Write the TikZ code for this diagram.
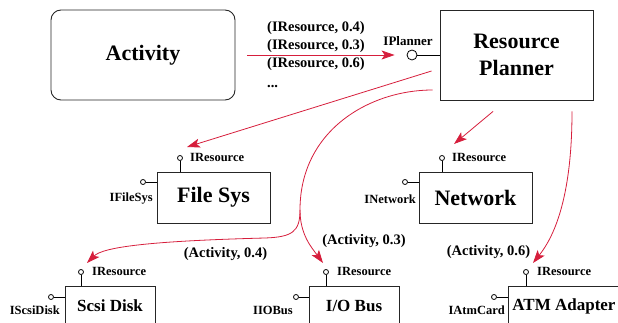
\documentclass[tikz,border=0pt]{standalone}
\usepackage{fontspec}
\setmainfont{Liberation Serif}
\usetikzlibrary{arrows.meta,calc}
\definecolor{arrred}{RGB}{214,30,60}
\begin{document}
\begin{tikzpicture}[x=1pt,y=-1pt,
  box/.style={draw=black!85,line width=0.9pt,font=\fontsize{22}{27}\selectfont\bfseries,align=center,inner sep=0pt},
  smallbox/.style={box,font=\fontsize{17}{20}\selectfont\bfseries},
  port/.style={circle,draw=black,line width=0.8pt,fill=white,inner sep=0pt,minimum size=5pt},
  bigport/.style={port,minimum size=10pt},
  plabel/.style={font=\fontsize{12.5}{14}\selectfont\bfseries,inner sep=0pt},
  alabel/.style={font=\fontsize{14.5}{16}\selectfont\bfseries,inner sep=0pt},
  link/.style={draw=arrred,line width=0.8pt},
  arr/.style={link,-{Stealth[length=13pt,width=9pt,inset=3pt]}},
  stub/.style={draw=black,line width=0.8pt}
]
\useasboundingbox (0,0) rectangle (618,323);

% main boxes
\node[box,rounded corners=10pt,minimum width=184pt,minimum height=90pt] (act) at (143,55) {Activity};
\node[box,minimum width=153pt,minimum height=90pt] (plan) at (516.5,55) {Resource\\Planner};
\node[box,minimum width=113pt,minimum height=51pt] (fs) at (213.5,197.5) {File Sys};
\node[box,minimum width=113pt,minimum height=51pt] (net) at (475.5,197.5) {Network};
\node[smallbox,minimum width=90pt,minimum height=40pt] (scsi) at (110,306) {Scsi Disk};
\node[smallbox,minimum width=90pt,minimum height=40pt] (iob) at (354,306) {I/O Bus};
\node[smallbox,minimum width=112pt,minimum height=40pt] (atm) at (564,306) {ATM Adapter};

% IPlanner port
\node[bigport] (ipl) at (412,55) {};
\draw[stub] (ipl.east) -- (plan.west);
\node[plabel,font=\fontsize{13}{15}\selectfont\bfseries] (iplL) at (408,41) {IPlanner};

% File Sys ports
\node[port] (fsR) at (180,158) {};
\draw[stub] (fsR.south) -- (fsR |- fs.north);
\node[plabel,anchor=west] (fsRL) at (190,157) {IResource};
\node[port] (fsF) at (143,182) {};
\draw[stub] (fsF.east) -- (fsF -| fs.west);
\node[plabel,anchor=east] (fsFL) at (153,199) {IFileSys};

% Network ports
\node[port] (nR) at (442,158) {};
\draw[stub] (nR.south) -- (nR |- net.north);
\node[plabel,anchor=west] (nRL) at (452,157) {IResource};
\node[port] (nN) at (405,182) {};
\draw[stub] (nN.east) -- (nN -| net.west);
\node[plabel,anchor=east] (nNL) at (416,199) {INetwork};

% Scsi ports
\node[port] (sR) at (81,272) {};
\draw[stub] (sR.south) -- (sR |- scsi.north);
\node[plabel,anchor=west] (sRL) at (92,271) {IResource};
\node[port] (sS) at (51,297) {};
\draw[stub] (sS.east) -- (sS -| scsi.west);
\node[plabel,anchor=east] (sSL) at (60,310) {IScsiDisk};

% I/O Bus ports
\node[port] (iR) at (326,272) {};
\draw[stub] (iR.south) -- (iR |- iob.north);
\node[plabel,anchor=west] (iRL) at (337,271) {IResource};
\node[port] (iI) at (296,297) {};
\draw[stub] (iI.east) -- (iI -| iob.west);
\node[plabel,anchor=east] (iIL) at (293,310) {IIOBus};

% ATM ports
\node[port] (aR) at (526,272) {};
\draw[stub] (aR.south) -- (aR |- atm.north);
\node[plabel,anchor=west] (aRL) at (537,271) {IResource};
\node[port] (aA) at (494,297) {};
\draw[stub] (aA.east) -- (aA -| atm.west);
\node[plabel,anchor=east] (aAL) at (505,310) {IAtmCard};

% message labels
\node[alabel,anchor=west] (m1) at (267,28) {(IResource, 0.4)};
\node[alabel,anchor=west] (m2) at (267,46) {(IResource, 0.3)};
\node[alabel,anchor=west] (m3) at (267,64) {(IResource, 0.6)};
\node[alabel,anchor=base west] (m4) at (267,88) {...};

\node[alabel] (a4) at (225.5,254) {(Activity, 0.4)};
\node[alabel] (a3) at (364,241) {(Activity, 0.3)};
\node[alabel] (a6) at (488.5,252) {(Activity, 0.6)};

% connectors
\draw[arr,shorten <=12pt,shorten >=12pt] (act.east) -- (ipl.west);

\coordinate (s1) at ([shift={(-8,16)}]plan.west);
\coordinate (t1) at ([shift={(7,-11)}]fsR);
\draw[arr] (s1) -- (t1);

\coordinate (s2) at ([shift={(-7,35)}]plan.west);
\coordinate (sp) at (300,210);
\coordinate (t2) at ([shift={(6,-9)}]sR);
\coordinate (t3) at ([shift={(-3,-9)}]iR);
\draw[link] (s2) .. controls (370,90) and (300,130) .. (sp);
\draw[arr] (sp) .. controls (300,232) and (292,237) .. (265,238) .. controls (150,241) and (103,247) .. (t2);
\draw[arr] (sp) .. controls (300,235) and (312,248) .. (t3);

\coordinate (s3) at ([shift={(-23.5,11)}]plan.south);
\coordinate (t4) at ([shift={(12,-14)}]nR);
\draw[arr] (s3) -- (t4);

\coordinate (s4) at ([shift={(55.5,11)}]plan.south);
\coordinate (t5) at ([shift={(7,-9)}]aR);
\draw[arr] (s4) .. controls (572,200) and (553,238) .. (t5);
\end{tikzpicture}
\end{document}
